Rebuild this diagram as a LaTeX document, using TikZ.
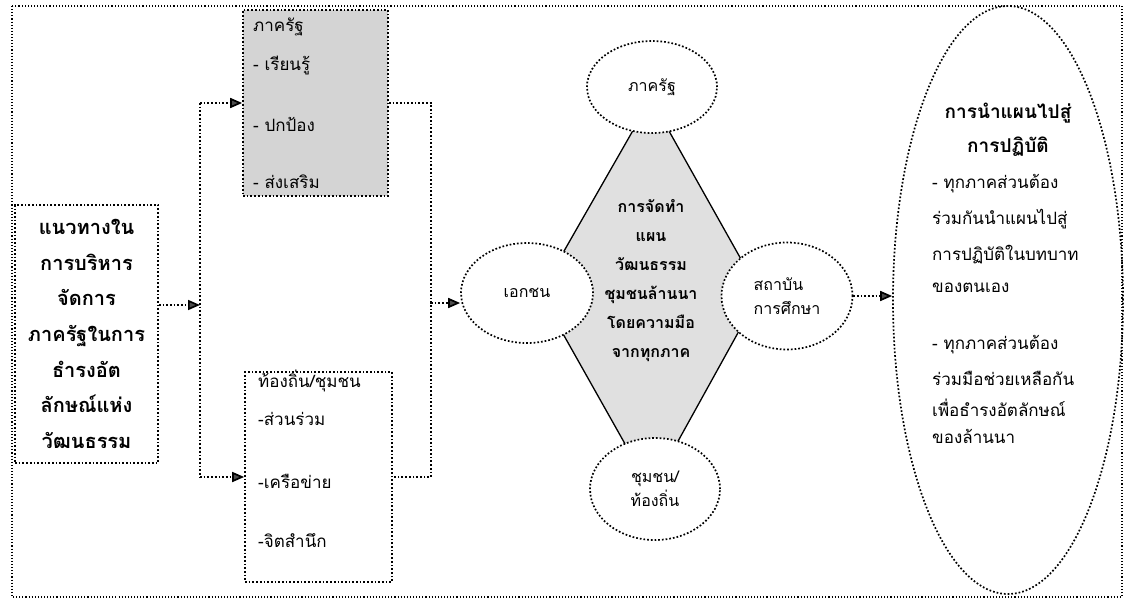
\documentclass[tikz,border=0pt]{standalone}
\usepackage{fontspec}
\setmainfont{Loma}[Script=Thai]
\usetikzlibrary{shapes.geometric,arrows.meta}

\begin{document}
\begin{tikzpicture}[x=1pt,y=-1pt,
    dots/.style={dotted,line width=1.7pt},
    tip/.style={dots,-{Triangle[length=12pt,width=10pt,fill=black!70]}},
    box/.style={draw,dots,inner sep=0pt},
    oval/.style={draw,dots,ellipse,fill=white,inner sep=0pt,align=center,font=\fontsize{16}{24}\selectfont},
    lines/.style={anchor=base west,inner sep=0pt,align=left},
    shade/.style={fill=black!17}]
  \useasboundingbox (0,0) rectangle (1126,600);
  \draw[dots,line width=1.1pt] (12,6) rectangle (1122,597);
  \node[box,minimum width=143pt,minimum height=258pt,align=center,
    font=\bfseries\fontsize{20}{35.7}\selectfont] (guide) at (86.5,334)
    {แนวทางใน\\การบริหาร\\จัดการ\\ภาครัฐในการ\\ธำรงอัต\\ลักษณ์แห่ง\\วัฒนธรรม};
  \node[box,shade,minimum width=145pt,minimum height=186pt] (state) at (315.5,103) {};
  \node[box,minimum width=147pt,minimum height=210pt] (local) at (318.5,477) {};
  \node[lines,font=\fontsize{17}{39}\selectfont] (statetext) at (253,188)
    {ภาครัฐ\\- เรียนรู้\\[22pt]- ปกป้อง\\[18pt]- ส่งเสริม};
  \node[lines,font=\fontsize{17}{38}\selectfont] (localtext) at (258,547)
    {ท้องถิ่น/ชุมชน\\-ส่วนร่วม\\[25pt]-เครือข่าย\\[21pt]-จิตสำนึก};
  \coordinate (split) at (200,305);
  \coordinate (merge) at (431,303);
  \draw[tip] (guide.east |- split) -- (split);
  \draw[dots] (split |- state.west) -- (split |- local.west);
  \draw[tip] (split |- state.west) -- (state.west);
  \draw[tip] (split |- local.west) -- (local.west);
  \draw[dots] (state.east) -| (merge) |- (local.east);
  \draw[line width=1.3pt,fill=black!12] (651,99) -- (760,293) -- (651,490) -- (540,293) -- cycle;
  \node[align=center,anchor=base,inner sep=0pt,font=\bfseries\fontsize{16}{29}\selectfont] (task) at (651,357)
    {การจัดทำ\\แผน\\วัฒนธรรม\\ชุมชนล้านนา\\โดยความมือ\\จากทุกภาค};
  \node[oval,minimum width=130pt,minimum height=92pt] (stateoval) at (652,87) {ภาครัฐ};
  \node[oval,minimum width=132pt,minimum height=100pt] (private) at (527,293) {เอกชน};
  \node[oval,minimum width=131pt,minimum height=107pt,align=left] (edu) at (787,296) {สถาบัน\\การศึกษา};
  \node[oval,minimum width=130pt,minimum height=102pt] (community) at (655,489) {ชุมชน/\\ท้องถิ่น};
  \node[draw,dots,ellipse,minimum width=230pt,minimum height=588pt] (plan) at (1008,300) {};
  \draw[tip] (merge) -- (merge -| private.west);
  \draw[tip] (edu.east) -- (edu.east -| plan.west);
  \node[align=center,anchor=base,inner sep=0pt,font=\bfseries\fontsize{19}{34}\selectfont] (plantitle) at (1008,152)
    {การนำแผนไปสู่\\การปฏิบัติ};
  \node[lines,font=\fontsize{17}{36}\selectfont] (plantext) at (932,443)
    {- ทุกภาคส่วนต้อง\\ร่วมกันนำแผนไปสู่\\การปฏิบัติในบทบาท\\[-4pt]ของตนเอง\\[21pt]- ทุกภาคส่วนต้อง\\ร่วมมือช่วยเหลือกัน\\[-5pt]เพื่อธำรงอัตลักษณ์\\[-9pt]ของล้านนา};
\end{tikzpicture}
\end{document}
